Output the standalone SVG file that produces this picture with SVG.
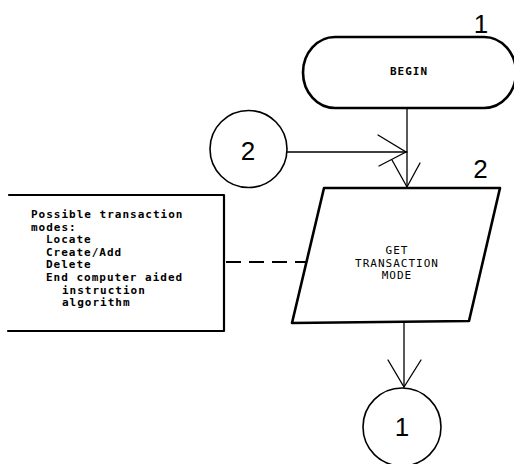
<svg xmlns="http://www.w3.org/2000/svg" width="514" height="464" viewBox="0 0 514 464">
  <style>
    .shape { fill: none; stroke: #000; stroke-linejoin: round; stroke-linecap: round; }
    .heavy { stroke-width: 2.6; }
    .ring { stroke-width: 1.6; }
    .wire { fill: none; stroke: #000; stroke-width: 1.3; stroke-linecap: round; }
    .dash { stroke-dasharray: 15 8; stroke-linecap: butt; stroke-width: 1.8; }
    .mono { font-family: "DejaVu Sans Mono", "Liberation Mono", monospace; font-size: 11px; letter-spacing: 1px; fill: #000; }
    .label { text-anchor: middle; }
    .bold { font-weight: bold; }
    .num { font-family: "Liberation Sans", Arial, sans-serif; font-size: 26px; fill: #000; text-anchor: middle; }
  </style>

  <rect width="514" height="464" fill="#fff"/>

  <!-- connectors -->
  <g id="connectors">
    <!-- BEGIN to GET TRANSACTION MODE -->
    <path class="wire" d="M407 108 V187"/>
    <path class="wire" d="M392 160 L407 187 L420 163"/>
    <!-- connector 2 joins the flow -->
    <path class="wire" d="M287 152 H407"/>
    <path class="wire" d="M378 135 L406 152 L379 166"/>
    <!-- GET TRANSACTION MODE to connector 1 -->
    <path class="wire" d="M404 322 V387"/>
    <path class="wire" d="M388 360 L404 387 L421 360"/>
    <!-- annotation link -->
    <path class="wire dash" d="M226 262 H307"/>
  </g>

  <!-- start terminal -->
  <g id="begin">
    <rect class="shape heavy" x="303" y="37" width="213" height="71" rx="32" ry="35.5"/>
    <text class="mono label bold" x="409" y="75">BEGIN</text>
    <text class="num" x="481" y="33">1</text>
  </g>

  <!-- off-page connector 2 -->
  <g id="connector-2">
    <circle class="shape ring" cx="248.5" cy="149" r="38.5"/>
    <text class="num" x="248" y="160">2</text>
  </g>

  <!-- input/output step -->
  <g id="get-transaction-mode">
    <path class="shape heavy" d="M324 188 H500 L469 321 L292 323 Z"/>
    <text class="mono label" x="397" y="254">GET</text>
    <text class="mono label" x="397" y="266.5">TRANSACTION</text>
    <text class="mono label" x="397" y="279">MODE</text>
    <text class="num" x="480.5" y="178">2</text>
  </g>

  <!-- annotation bracket -->
  <g id="annotation">
    <path class="shape" stroke-width="2.2" d="M9 195 H224 V331 H8"/>
    <text class="mono bold">
      <tspan x="31" y="218">Possible transaction</tspan>
      <tspan x="31" y="230.5">modes:</tspan>
      <tspan x="46" y="243">Locate</tspan>
      <tspan x="46" y="255.5">Create/Add</tspan>
      <tspan x="46" y="268">Delete</tspan>
      <tspan x="46" y="280.5">End computer aided</tspan>
      <tspan x="62" y="293.5">instruction</tspan>
      <tspan x="62" y="306">algorithm</tspan>
    </text>
  </g>

  <!-- off-page connector 1 -->
  <g id="connector-1">
    <circle class="shape ring" cx="402" cy="427" r="39"/>
    <text class="num" x="402" y="436">1</text>
  </g>
</svg>
